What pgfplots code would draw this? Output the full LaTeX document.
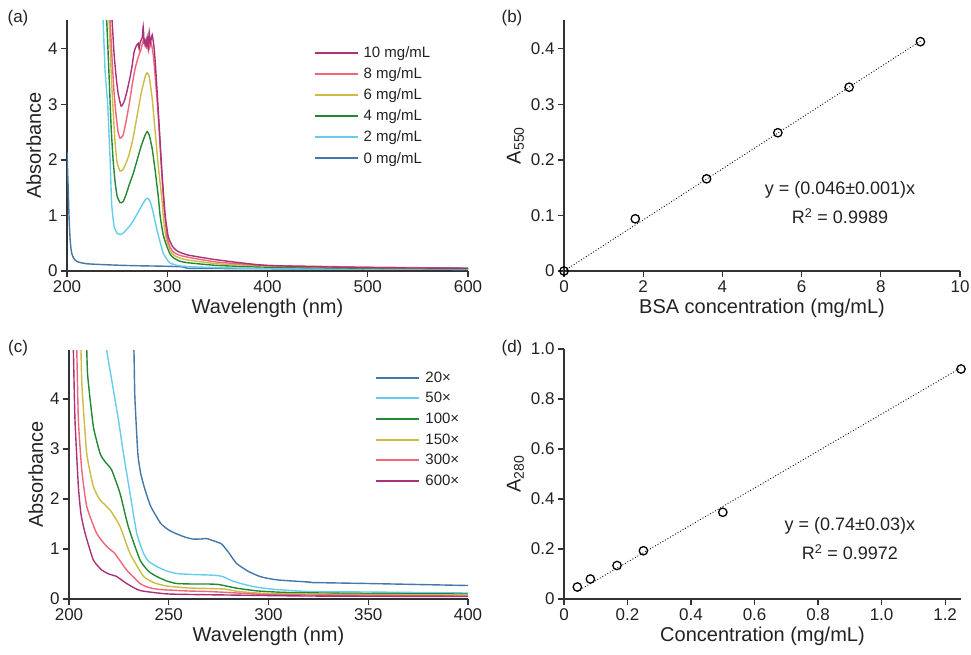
\documentclass[border=0pt]{standalone}
\usepackage{fontspec}
\setmainfont{Liberation Sans}
\usepackage{pgfplots}
\pgfplotsset{compat=1.18}
\definecolor{tblue}{HTML}{4477AA}
\definecolor{tcyan}{HTML}{66CCEE}
\definecolor{tgreen}{HTML}{228833}
\definecolor{tyellow}{HTML}{CCBB44}
\definecolor{tred}{HTML}{EE6677}
\definecolor{tpurple}{HTML}{AA3377}
\definecolor{axc}{HTML}{333333}
\definecolor{txtc}{HTML}{222222}
\pgfplotsset{
  myax/.style={
    scale only axis,
    axis lines=left,
    axis line style={-, line width=1.3pt, color=axc},
    tick align=outside,
    major tick length=6pt,
    tick style={line width=1.2pt, color=axc},
    every tick label/.append style={font=\fontsize{17}{20}\selectfont, text=txtc},
    label style={font=\fontsize{20}{24}\selectfont, text=txtc},
    /pgf/number format/assume math mode=true,
    legend style={draw=none, fill=none, font=\fontsize{15}{18}\selectfont, text=txtc, row sep=4.7pt, anchor=north west,
      /tikz/every odd column/.style={column sep=3pt}},
    legend cell align=left,
    legend image code/.code={\draw[#1, line width=2pt] (0pt,0pt) -- (43pt,0pt);},
  },
  spec/.style={line width=1.4pt, smooth, tension=0.3},
  fitpts/.style={only marks, mark=o, mark size=4.2pt, mark options={line width=1.3pt, black, fill=white}},
  fitline/.style={black, dotted, line width=0.9pt},
}
\begin{document}
\begin{tikzpicture}
\path[use as bounding box] (0,0) rectangle (971pt,-654pt);
\node[font=\fontsize{17}{20}\selectfont, text=txtc] at (18pt,-18pt) {(a)};
\node[font=\fontsize{17}{20}\selectfont, text=txtc] at (512pt,-18pt) {(b)};
\node[font=\fontsize{17}{20}\selectfont, text=txtc] at (18pt,-348pt) {(c)};
\node[font=\fontsize{17}{20}\selectfont, text=txtc] at (512pt,-348pt) {(d)};
% (a)
\begin{axis}[myax, at={(67pt,-271pt)}, anchor=south west, width=401pt, height=251pt,
  xmin=200, xmax=600, ymin=0, ymax=4.52, xtick={200,300,...,600}, ytick={0,1,2,3,4},
  xlabel={Wavelength (nm)}, ylabel={Absorbance},
  legend style={at={(rel axis cs:0.607,0.91)}}, reverse legend]
\addplot[spec, tblue] coordinates {(200,2.15)(201,1.6)(202,1.0)(203,0.6)(204,0.4)(205,0.3)(207,0.22)(210,0.17)(215,0.145)(220,0.13)(230,0.12)(250,0.105)(270,0.095)(300,0.085)(315,0.075)(320,0.05)(350,0.045)(400,0.04)(500,0.035)(600,0.03)};
\addlegendentry{0 mg/mL}
\addplot[spec, tcyan] coordinates {(234,5)(236,4.5)(238,3.6)(240.6,3)(243,2)(244.6,1.2)(247,0.8)(250,0.68)(253,0.66)(256,0.68)(259,0.74)(262,0.8)(266,0.9)(270,1.03)(274,1.16)(278,1.28)(280.5,1.31)(283,1.25)(286,1.05)(289,0.8)(291,0.65)(294,0.45)(296,0.32)(300,0.2)(303,0.14)(310,0.1)(320,0.08)(350,0.06)(400,0.045)(500,0.035)(600,0.03)};
\addlegendentry{2 mg/mL}
\addplot[spec, tgreen] coordinates {(237,5)(239.6,4.5)(242,3.5)(244,2.6)(246,2.0)(248,1.6)(250,1.35)(253,1.23)(256,1.25)(259,1.38)(262,1.55)(266,1.75)(270,2.0)(274,2.25)(278,2.45)(280,2.51)(282,2.45)(285,2.2)(288,1.8)(291,1.35)(293,0.98)(296,0.65)(299.7,0.44)(303,0.3)(306,0.24)(312,0.18)(320,0.15)(350,0.1)(400,0.07)(500,0.05)(600,0.04)};
\addlegendentry{4 mg/mL}
\addplot[spec, tyellow] coordinates {(240,5)(242,4.5)(244,3.6)(246,2.9)(248,2.3)(250,1.95)(253,1.8)(256,1.83)(259,1.95)(262,2.1)(266,2.4)(270,2.8)(274,3.2)(278,3.5)(280,3.57)(282,3.5)(285,3.1)(288,2.5)(291,1.9)(294.7,1.28)(297,0.8)(300,0.5)(303,0.36)(307,0.28)(313,0.23)(320,0.2)(350,0.13)(400,0.09)(500,0.06)(600,0.05)};
\addlegendentry{6 mg/mL}
\addplot[spec, tred] coordinates {(241,5)(243,4.5)(245,3.8)(247,3.2)(249,2.8)(251,2.5)(253,2.39)(256,2.45)(259,2.7)(262,3.0)(265,3.35)(268,3.65)(271,3.85)(274,4.0)(276,4.15)(278,4.05)(280,4.2)(282,4.0)(284,4.1)(286,3.9)(288,3.5)(291,2.8)(294,1.9)(297,1.1)(300,0.6)(303,0.42)(307,0.33)(313,0.28)(320,0.25)(350,0.16)(400,0.1)(500,0.07)(600,0.05)};
\addlegendentry{8 mg/mL}
\addplot[spec, tpurple] coordinates {(243,5)(245,4.5)(247,3.9)(249,3.5)(251,3.2)(254,2.97)(257,3.05)(260,3.25)(263,3.5)(265,3.7)(267,3.95)(269,4.05)(271,4.1)(272,4.0)(273,4.12)(275,4.2)(276,4.4)(277,4.1)(278,4.15)(279,4.05)(280,4.2)(281,4.0)(282,4.3)(283,4.1)(285,4.25)(287,4.0)(289,3.5)(292,2.6)(295,1.7)(298,1.0)(301,0.62)(305,0.45)(310,0.36)(320,0.29)(350,0.2)(400,0.1)(500,0.06)(600,0.05)};
\addlegendentry{10 mg/mL}
\end{axis}
% (b)
\begin{axis}[myax, at={(564pt,-271pt)}, anchor=south west, width=396pt, height=251pt,
  xmin=0, xmax=10, ymin=0, ymax=0.452, xtick={0,2,...,10}, ytick={0,0.1,0.2,0.3,0.4},
  xlabel={BSA concentration (mg/mL)}, ylabel={A\textsubscript{550}}, clip=false]
\addplot[fitline] coordinates {(0,0)(9,0.414)};
\addplot[fitpts] coordinates {(0,0)(1.8,0.094)(3.6,0.166)(5.4,0.249)(7.2,0.331)(9,0.413)};
\node[align=center, font=\fontsize{18}{29}\selectfont, text=txtc] at (axis cs:6.97,0.1225) {y = (0.046±0.001)x\\R\textsuperscript{2} = 0.9989};
\end{axis}
% (c)
\begin{axis}[myax, at={(69pt,-599pt)}, anchor=south west, width=399pt, height=249pt,
  xmin=200, xmax=400, ymin=0, ymax=4.98, xtick={200,250,...,400}, ytick={0,1,2,3,4},
  xlabel={Wavelength (nm)}, ylabel={Absorbance},
  legend style={at={(rel axis cs:0.76,0.93)}}]
\addplot[spec, tblue] coordinates {(232,5.5)(232.6,4.9)(233,4.05)(234.5,2.91)(236,2.5)(238,2.2)(241,1.85)(246,1.51)(250,1.38)(253.5,1.31)(258,1.24)(262,1.2)(266,1.2)(269,1.21)(272,1.17)(276.5,1.1)(280,0.93)(284,0.71)(290,0.55)(295.7,0.45)(300,0.41)(305,0.38)(316,0.35)(320,0.34)(321,0.33)(350,0.31)(400,0.27)};
\addlegendentry{20×}
\addplot[spec, tcyan] coordinates {(218,5.5)(218.9,4.98)(221.4,4.38)(224.8,3.58)(227.3,2.91)(230.6,2.11)(234,1.31)(237.4,0.91)(240,0.75)(244,0.65)(249,0.56)(254,0.51)(262,0.49)(270,0.48)(274,0.47)(277,0.45)(282,0.36)(289,0.28)(295,0.23)(304,0.19)(320,0.15)(350,0.14)(400,0.12)};
\addlegendentry{50×}
\addplot[spec, tgreen] coordinates {(208.5,5.5)(208.9,4.98)(209.4,4.45)(212.2,3.45)(215.6,2.91)(218,2.75)(221.4,2.58)(225.6,2.11)(229.7,1.45)(235.6,0.78)(240,0.55)(244,0.45)(249,0.36)(254,0.31)(262,0.3)(270,0.3)(275,0.29)(280,0.25)(285,0.21)(295,0.16)(310,0.13)(350,0.11)(400,0.1)};
\addlegendentry{100×}
\addplot[spec, tyellow] coordinates {(205.5,5.5)(206,4.98)(206.5,4.25)(208.9,2.91)(212.2,2.25)(215.6,1.98)(220.6,1.78)(225.6,1.45)(230.6,0.91)(237.4,0.45)(243,0.32)(249,0.26)(260,0.22)(270,0.21)(278,0.2)(285,0.15)(300,0.11)(350,0.09)(400,0.08)};
\addlegendentry{150×}
\addplot[spec, tred] coordinates {(203.5,5.5)(203.9,4.98)(204.7,3.58)(206.4,2.58)(208.9,1.85)(213.9,1.31)(218.9,1.05)(223,0.91)(228.9,0.58)(235.6,0.31)(240,0.23)(245.6,0.19)(260,0.16)(270,0.15)(280,0.13)(300,0.09)(350,0.07)(400,0.06)};
\addlegendentry{300×}
\addplot[spec, tpurple] coordinates {(202,5.5)(202.2,4.98)(203,3.58)(204.7,2.25)(206,1.7)(208.1,1.31)(212.2,0.78)(216.4,0.58)(220,0.5)(223.9,0.45)(228.9,0.31)(235.6,0.17)(250,0.1)(280,0.08)(320,0.06)(400,0.05)};
\addlegendentry{600×}
\end{axis}
% (d)
\begin{axis}[myax, at={(564pt,-599pt)}, anchor=south west, width=397pt, height=250pt,
  xmin=0, xmax=1.25, ymin=0, ymax=1.0, xtick={0,0.2,0.4,0.6,0.8,1.0,1.2}, xticklabels={0,0.2,0.4,0.6,0.8,1.0,1.2},
  ytick={0,0.2,0.4,0.6,0.8,1.0}, yticklabels={0,0.2,0.4,0.6,0.8,1.0},
  xlabel={Concentration (mg/mL)}, ylabel={A\textsubscript{280}}, clip=false]
\addplot[fitline] coordinates {(0.042,0.031)(1.25,0.925)};
\addplot[fitpts] coordinates {(0.042,0.048)(0.083,0.080)(0.167,0.134)(0.25,0.193)(0.5,0.347)(1.25,0.920)};
\node[align=center, font=\fontsize{18}{29}\selectfont, text=txtc] at (axis cs:0.90,0.24) {y = (0.74±0.03)x\\R\textsuperscript{2} = 0.9972};
\end{axis}
\end{tikzpicture}
\end{document}
